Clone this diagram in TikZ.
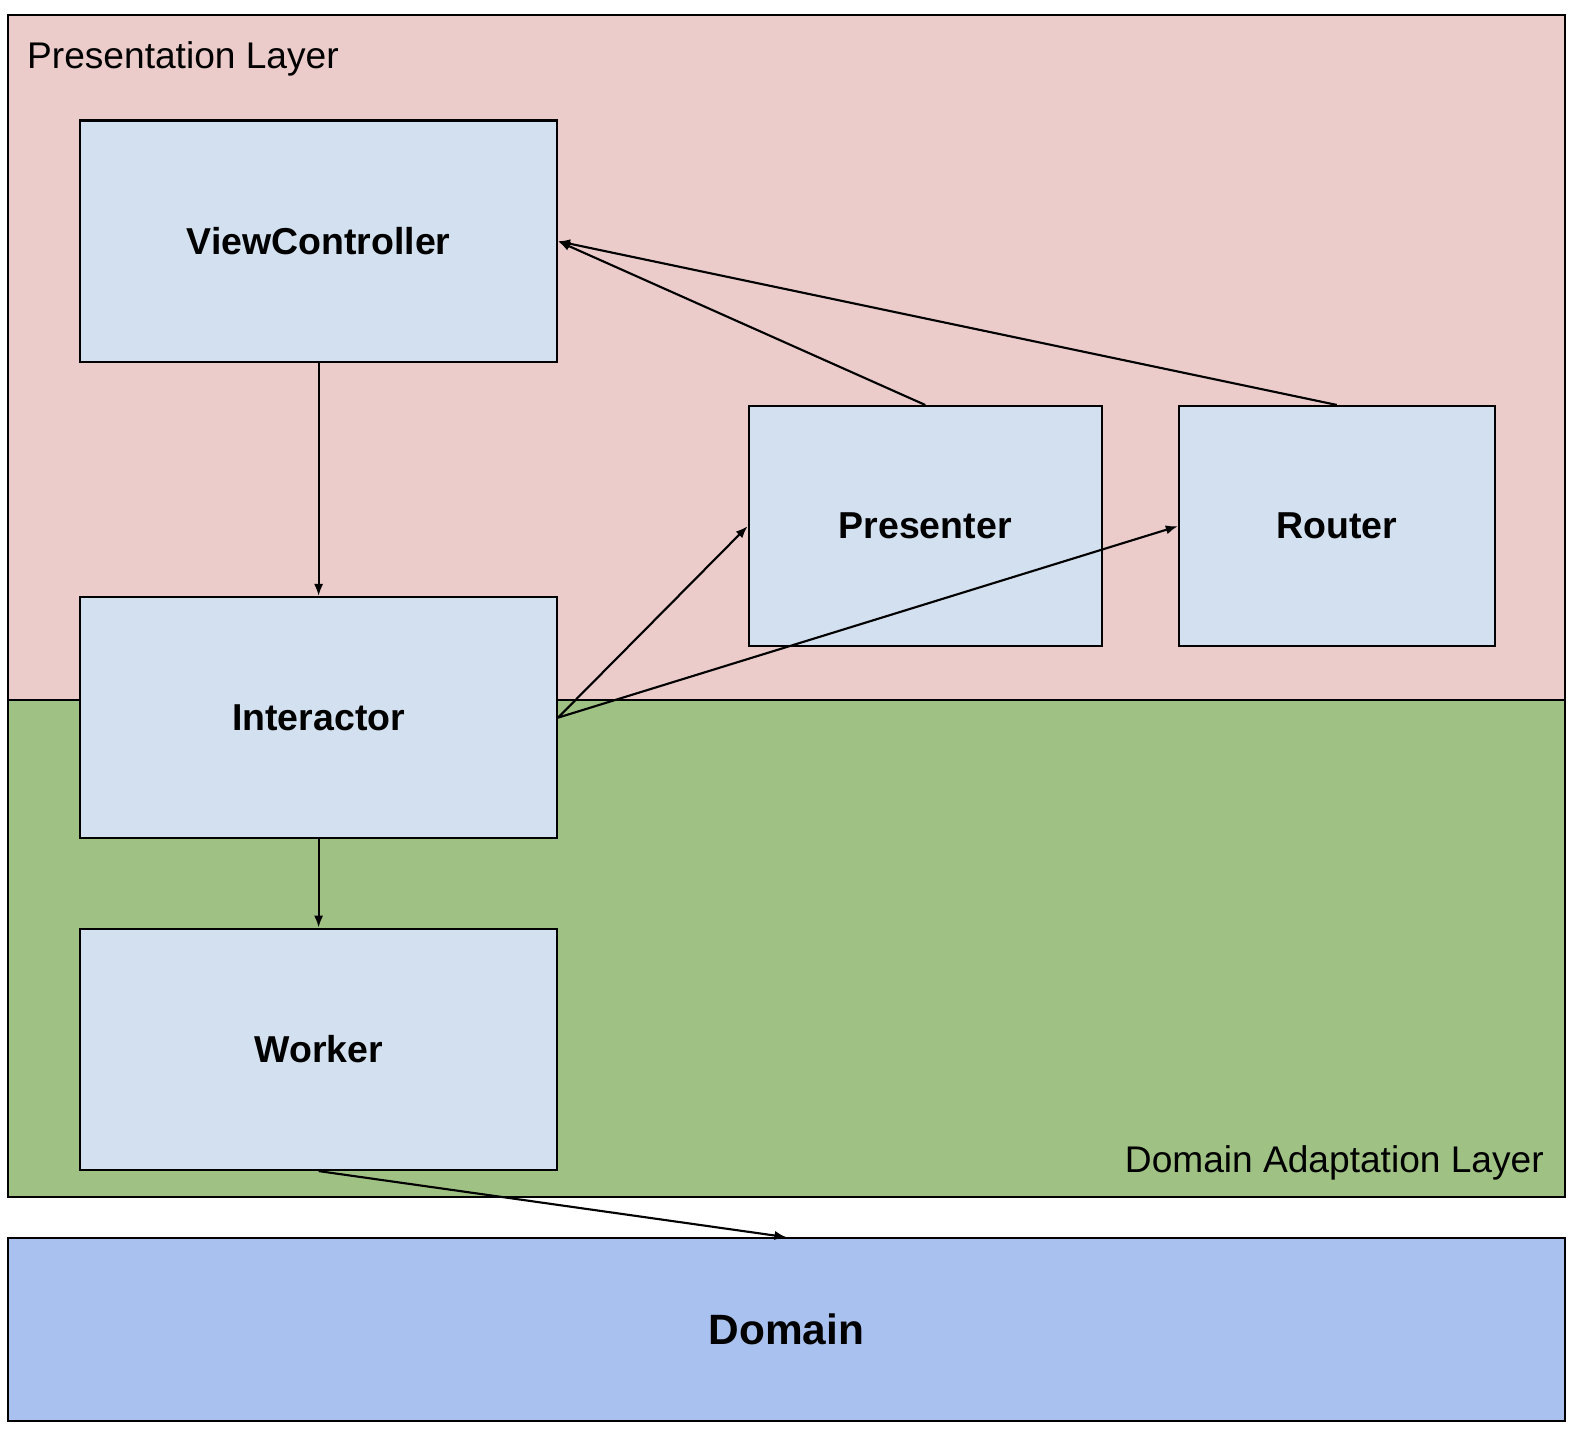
\documentclass[tikz,border=0pt]{standalone}
\usepackage{fontspec}
\setmainfont{Liberation Sans}
\usetikzlibrary{arrows.meta,calc,positioning}
\definecolor{presfill}{HTML}{ECCCCB}
\definecolor{adaptfill}{HTML}{9FC284}
\definecolor{boxfill}{HTML}{D2E0EF}
\definecolor{domainfill}{HTML}{A9C1EE}

\begin{document}
\begin{tikzpicture}[x=0.01cm, y=-0.01cm, line width=0.6pt]
    \tikzset{LayerStyle/.style = {draw, minimum width=15.49cm, inner sep=0pt},
      BoxStyle/.style = {draw, fill=boxfill, inner sep=0pt,
        font=\fontsize{10.6}{12}\selectfont\bfseries},
      EdgeStyle/.style = {-{Latex[length=3.4pt, width=2.6pt]}}}
    \useasboundingbox (0,0) rectangle (1568,1423);
    % layers
    \node[LayerStyle, fill=presfill, minimum height=6.82cm] (Pres) at (782.5,356) {};
    \node[LayerStyle, fill=adaptfill, minimum height=4.94cm] (Adapt) at (782.5,944) {};
    \node[LayerStyle, fill=domainfill, minimum height=1.82cm,
      font=\fontsize{12}{14}\selectfont\bfseries] (Domain) at (782.5,1323) {Domain};
    \node[anchor=base west, inner sep=0pt, font=\fontsize{10.5}{12}\selectfont] at (26,68) {Presentation Layer};
    \node[anchor=base east, inner sep=0pt, font=\fontsize{10.5}{12}\selectfont] at (1537,1167) {Domain Adaptation Layer};
    % components
    \node[BoxStyle, minimum width=4.74cm, minimum height=2.4cm] (VC) at (317,240) {ViewController};
    \node[BoxStyle, minimum width=4.74cm, minimum height=2.4cm] (Inter) at (317,714) {Interactor};
    \node[BoxStyle, minimum width=4.74cm, minimum height=2.4cm] (Work) at (317,1044) {Worker};
    \node[BoxStyle, minimum width=3.51cm, minimum height=2.39cm] (Pre) at (920.5,523.5) {Presenter};
    \node[BoxStyle, minimum width=3.14cm, minimum height=2.39cm] (Rout) at (1330,523.5) {Router};
    % edges
    \draw[EdgeStyle] (VC.south) -- (Inter.north);
    \draw[EdgeStyle] (Inter.south) -- (Work.north);
    \draw[EdgeStyle] (Pre.north) -- (VC.east);
    \draw[EdgeStyle] (Rout.north) -- (VC.east);
    \draw[EdgeStyle] (Inter.east) -- (Pre.west);
    \draw[EdgeStyle] (Inter.east) -- (Rout.west);
    \draw[EdgeStyle] (Work.south) -- (Domain.north);
  \end{tikzpicture}
\end{document}
